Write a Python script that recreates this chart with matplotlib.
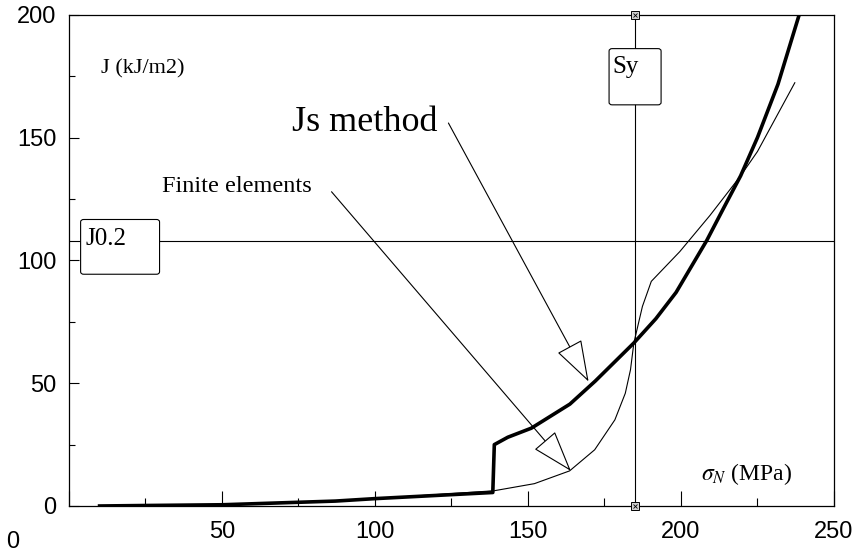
import numpy as np
import matplotlib.pyplot as plt
from matplotlib.patches import FancyBboxPatch

plt.rcParams['mathtext.fontset'] = 'stix'
serif = ['Liberation Serif', 'DejaVu Serif']
sans = ['Liberation Sans', 'DejaVu Sans']

# J versus nominal stress, Js method (thick) and finite elements (thin)
js_sigma = [10, 25, 50, 87, 100, 138.5, 139, 143.4, 151.1, 163.7, 172.0, 184.6,
            191.8, 198.4, 208.4, 214.0, 219.5, 225.0, 231.7, 239.0]
js_J = [0, 0.2, 0.5, 2, 3, 5.5, 25, 28, 31.7, 41.5, 50.9, 66.4,
        76.3, 87.0, 108.1, 121.5, 134.5, 150.1, 171.8, 201.6]

fe_sigma = [10, 25, 50, 87, 100, 138.9, 152.1, 163.6, 171.8, 178.4, 181.8, 183.5,
            184.6, 187.4, 190.3, 199.6, 209.5, 219.5, 225.0, 237.2]
fe_J = [0, 0.2, 0.5, 2, 3, 6.2, 9.1, 14.3, 22.9, 35.1, 45.9, 55.5,
        66.4, 81.3, 91.5, 103.6, 118.4, 134.5, 144.4, 172.4]

sy = 185      # yield stress
j02 = 108     # J0.2

xticks = [0, 50, 100, 150, 200, 250]
yticks = [0, 50, 100, 150, 200]

fig = plt.figure(figsize=(8.58, 5.55), dpi=100)
ax = fig.add_axes([0.0804, 0.0883, 0.8916, 0.8847])
ax.set_xlim(0, 250)
ax.set_ylim(0, 200)

for s in ax.spines.values():
    s.set_linewidth(0.9)

ax.set_xticks(xticks)
ax.set_xticklabels([''] + [str(v) for v in xticks[1:]], family=sans, fontsize=17)
ax.set_xticks(np.arange(25, 250, 50), minor=True)
ax.set_yticks(yticks)
ax.set_yticklabels([str(v) for v in yticks], family=sans, fontsize=17)
ax.set_yticks(np.arange(25, 200, 50), minor=True)
ax.tick_params(axis='x', which='major', direction='in', length=11, width=0.8, pad=11)
ax.tick_params(axis='x', which='minor', direction='in', length=6, width=0.8)
ax.tick_params(axis='y', which='major', direction='in', length=7, width=0.8, pad=9)
ax.tick_params(axis='y', which='minor', direction='in', length=4, width=0.8)
# the origin label sits off to the left
ax.text(-0.074, -0.05, '0', transform=ax.transAxes, family=sans, fontsize=17,
        ha='center', va='top')

# reference lines
ax.axhline(j02, color='black', lw=0.8, zorder=1)
ax.axvline(sy, color='black', lw=0.8, zorder=1)
for yy in (0, 200):
    ax.plot(sy, yy, marker='s', ms=6, mfc='#d0d0d0', mec='black', mew=0.7,
            clip_on=False, zorder=5)
    ax.plot(sy, yy, marker='x', ms=3.5, mec='black', mew=0.6, clip_on=False, zorder=6)

# curves
ax.plot(fe_sigma, fe_J, color='black', lw=0.8, zorder=3)
ax.plot(js_sigma, js_J, color='black', lw=2.6, solid_joinstyle='round', zorder=4)

# label boxes
box_j = FancyBboxPatch((3.8, 94.4), 25.8, 22.3, boxstyle='round,pad=0,rounding_size=1',
                       fc='white', ec='black', lw=0.8, zorder=6)
ax.add_patch(box_j)
ax.text(5.4, 106.4, 'J0.2', family=serif, fontsize=18, va='baseline', zorder=7)

box_s = FancyBboxPatch((176.5, 163.4), 17, 22.9, boxstyle='round,pad=0,rounding_size=1',
                       fc='white', ec='black', lw=0.8, zorder=6)
ax.add_patch(box_s)
ax.text(177.6, 176.4, 'Sy', family=serif, fontsize=18, va='baseline', zorder=7)

# annotations
ax.text(10.5, 176, 'J (kJ/m2)', family=serif, fontsize=16, va='baseline')
ax.text(72.8, 152.9, 'Js method', family=serif, fontsize=26, va='baseline')
ax.text(30.4, 128, 'Finite elements', family=serif, fontsize=17.5, va='baseline')
ax.text(206.5, 10.5, r'$\sigma_N$ (MPa)', family=serif, fontsize=17, va='baseline')

arrow = dict(arrowstyle='-|>,head_length=1.35,head_width=0.45', mutation_scale=20,
             fc='white', ec='black', lw=0.8, shrinkA=0, shrinkB=0)
ax.annotate('', xy=(169.8, 50.7), xytext=(124, 156), arrowprops=arrow, zorder=5)
ax.annotate('', xy=(164, 14.3), xytext=(85.8, 128), arrowprops=arrow, zorder=5)

fig.savefig('out.png', dpi=100)
